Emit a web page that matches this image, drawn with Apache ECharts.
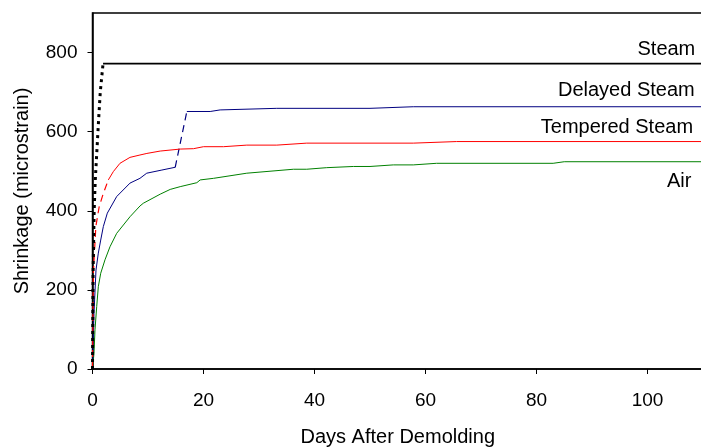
<!DOCTYPE html>
<html>
<head>
<meta charset="utf-8">
<script src="https://cdn.jsdelivr.net/npm/echarts@6/dist/echarts.min.js"></script>
<style>
  html, body { margin: 0; padding: 0; background: #fff; }
  #chart { width: 701px; height: 448px; }
</style>
</head>
<body>
<div id="chart"></div>
<script>
// shrinkage vs. days after demolding

var xTicks = [0, 20, 40, 60, 80, 100];
var yTicks = [0, 200, 400, 600, 800];

// Steam: dotted rise, then flat
var steamRise = [[0, 0], [0.1, 240], [0.3, 400], [0.5, 478], [0.8, 554], [1.1, 630], [1.4, 700], [1.9, 772]];
var steamFlat = [[1.9, 772], [110, 772]];

// Tempered Steam: dashed start, then solid
var temperedEarly = [[0, 0], [0.15, 242], [0.6, 360], [1.2, 410], [1.95, 444], [2.85, 478]];
var temperedLate = [[2.85, 478], [3.75, 499], [4.95, 520], [6.75, 535], [8.55, 541], [9.8, 545], [12.2, 551],
    [15.8, 556], [18.2, 557], [20, 562], [23.6, 562], [27.8, 566], [33.2, 566], [38.6, 571], [57.8, 571],
    [65.6, 575], [110, 575]];

// Delayed Steam: solid, dashed jump, solid
var delayedEarly = [[0, 0], [0.27, 141], [0.63, 250], [1.05, 293], [1.48, 326], [1.95, 360], [2.67, 394],
    [4.36, 436], [6.76, 470], [8.55, 482], [9.77, 495], [12.5, 503], [14.9, 510]];
var delayedJump = [[14.9, 510], [17, 651]];
var delayedLate = [[17, 651], [21.2, 651], [23, 655], [33.2, 659], [50, 659], [57.8, 663], [110, 663]];

// Air
var airData = [[0, 0], [0.27, 40], [0.45, 99], [0.76, 158], [1.05, 208], [1.48, 242], [2.25, 276], [3.15, 309],
    [4.36, 343], [6.76, 385], [8.55, 412], [9.15, 419], [12.2, 442], [14, 454], [15.8, 461], [18.8, 471],
    [19.4, 478], [21.8, 482], [27.8, 495], [36.2, 505], [38.6, 505], [42.2, 509], [47, 512], [50, 512],
    [54.2, 516], [57.8, 516], [62, 520], [83, 520], [85, 524], [110, 524]];

// curve names and where their text sits (data coords, right edge of text)
var curveLabels = ['Steam', 'Delayed Steam', 'Tempered Steam', 'Air'];
var labelAnchors = [[108.7, 809], [108.6, 704], [108.3, 611], [108, 474]];

var FONT = 'Liberation Sans';

function nameMark(idx) {
    return {
        symbol: 'circle',
        symbolSize: 1,
        silent: true,
        animation: false,
        itemStyle: { color: 'rgba(0,0,0,0)' },
        label: {
            show: true,
            position: 'left',
            distance: 0,
            formatter: curveLabels[idx],
            color: '#000',
            fontFamily: FONT,
            fontSize: 20
        },
        data: [{ coord: labelAnchors[idx] }]
    };
}

function lineSeries(data, color, width, type, mark) {
    var s = {
        type: 'line',
        data: data,
        showSymbol: false,
        symbol: 'none',
        animation: false,
        lineStyle: { color: color, width: width, type: type },
        z: 3
    };
    if (mark) s.markPoint = mark;
    return s;
}

var chart = echarts.init(document.getElementById('chart'));

var option = {
    backgroundColor: '#fff',
    animation: false,
    grid: {
        left: 92.5,
        top: 13,
        right: -2,
        bottom: 79,
        containLabel: false,
        outerBoundsMode: 'none',
        show: true,
        borderColor: '#000',
        borderWidth: 1.5
    },
    xAxis: {
        type: 'value',
        min: 0,
        max: 110,
        interval: 20,
        name: 'Days After Demolding',
        nameLocation: 'middle',
        nameGap: 58,
        nameTextStyle: { color: '#000', fontFamily: FONT, fontSize: 20 },
        axisLine: { show: true, lineStyle: { color: '#000', width: 1.5 } },
        axisTick: { show: true, length: 5, customValues: xTicks, lineStyle: { color: '#000' } },
        axisLabel: { color: '#000', fontFamily: FONT, fontSize: 19, margin: 22, customValues: xTicks },
        splitLine: { show: false }
    },
    yAxis: {
        type: 'value',
        min: 0,
        max: 900,
        interval: 200,
        name: 'Shrinkage (microstrain)',
        nameLocation: 'middle',
        nameGap: 60,
        nameTextStyle: { color: '#000', fontFamily: FONT, fontSize: 20 },
        axisLine: { show: true, lineStyle: { color: '#000', width: 1.5 } },
        axisTick: { show: true, length: 5, customValues: yTicks, lineStyle: { color: '#000' } },
        axisLabel: { color: '#000', fontFamily: FONT, fontSize: 19, margin: 15, customValues: yTicks },
        splitLine: { show: false }
    },
    series: [
        lineSeries(airData, '#008000', 1, 'solid', nameMark(3)),
        lineSeries(delayedEarly, '#000080', 1, 'solid'),
        lineSeries(delayedJump, '#000080', 1.2, [7, 5]),
        lineSeries(delayedLate, '#000080', 1, 'solid', nameMark(1)),
        lineSeries(temperedEarly, '#ff0000', 1.2, [7, 5]),
        lineSeries(temperedLate, '#ff0000', 1, 'solid', nameMark(2)),
        lineSeries(steamRise, '#000', 3, [3, 4]),
        lineSeries(steamFlat, '#000', 1.8, 'solid', nameMark(0))
    ]
};

chart.setOption(option);
</script>
</body>
</html>
